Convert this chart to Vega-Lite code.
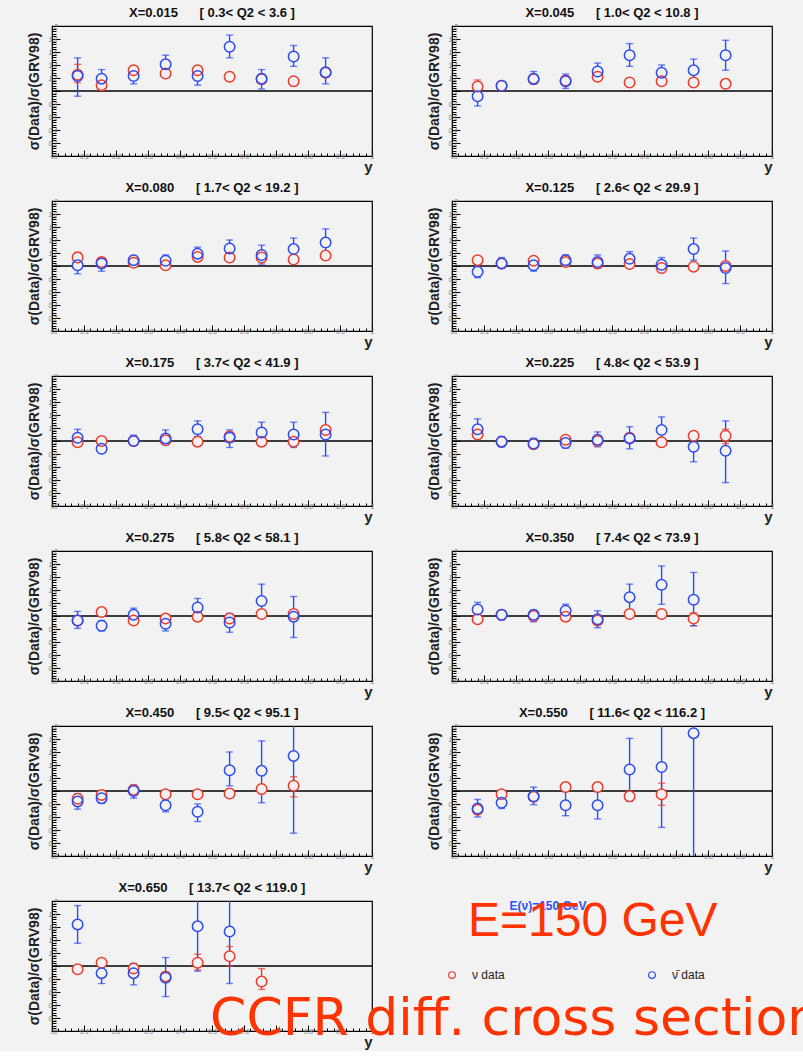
{
"$schema": "https://vega.github.io/schema/vega-lite/v6.json",
"background": "#f2f2f2",
"padding": {"left": 27, "top": 6, "right": 0, "bottom": 0},
"columns": 2,
"bounds": "flush",
"spacing": {"row": 45, "column": 80},
"config": {
  "font": "Liberation Sans",
  "view": {"stroke": "#000", "strokeWidth": 1.2},
  "title": {"fontSize": 13, "fontWeight": "bold", "font": "Liberation Sans", "offset": 3, "color": "#111"},
  "axis": {"grid": false, "domain": false, "tickColor": "#000", "tickWidth": 1, "labelOverlap": false, "labelFlush": false, "labelBound": false, "labelFont": "Liberation Sans", "labelFontStyle": "italic", "labelFontSize": 6.5, "labelColor": "#7a7a7a", "labelPadding": 3, "format": "~g", "titleFont": "Liberation Sans", "titleColor": "#222"},
  "axisY": {"titleFontSize": 14, "titleFontWeight": "bold", "titlePadding": 6},
  "axisX": {"titleAnchor": "end", "titleFontSize": 15, "titleFontWeight": "bold", "titlePadding": 0}
},
"datasets": {
"pts": [
{"p":1,"s":"a","y":0.08,"v":1.25,"lo":1.13,"hi":1.41},
{"p":1,"s":"a","y":0.155,"v":1.09,"lo":1.01,"hi":1.15},
{"p":1,"s":"a","y":0.255,"v":1.32,"lo":1.25,"hi":1.38},
{"p":1,"s":"a","y":0.355,"v":1.27,"lo":1.25,"hi":1.29},
{"p":1,"s":"a","y":0.455,"v":1.32,"lo":1.26,"hi":1.37},
{"p":1,"s":"a","y":0.555,"v":1.22,"lo":1.2,"hi":1.24},
{"p":1,"s":"a","y":0.655,"v":1.18,"lo":1.15,"hi":1.21},
{"p":1,"s":"a","y":0.755,"v":1.15,"lo":1.08,"hi":1.17},
{"p":1,"s":"a","y":0.855,"v":1.28,"lo":1.22,"hi":1.33},
{"p":1,"s":"b","y":0.08,"v":1.23,"lo":0.92,"hi":1.51},
{"p":1,"s":"b","y":0.155,"v":1.19,"lo":1.06,"hi":1.33},
{"p":1,"s":"b","y":0.255,"v":1.23,"lo":1.11,"hi":1.37},
{"p":1,"s":"b","y":0.355,"v":1.41,"lo":1.28,"hi":1.55},
{"p":1,"s":"b","y":0.455,"v":1.23,"lo":1.09,"hi":1.37},
{"p":1,"s":"b","y":0.555,"v":1.68,"lo":1.51,"hi":1.86},
{"p":1,"s":"b","y":0.655,"v":1.19,"lo":1.03,"hi":1.33},
{"p":1,"s":"b","y":0.755,"v":1.53,"lo":1.38,"hi":1.7},
{"p":1,"s":"b","y":0.855,"v":1.29,"lo":1.11,"hi":1.51},
{"p":2,"s":"a","y":0.08,"v":1.07,"lo":1.01,"hi":1.17},
{"p":2,"s":"a","y":0.155,"v":1.08,"lo":1.05,"hi":1.11},
{"p":2,"s":"a","y":0.255,"v":1.18,"lo":1.14,"hi":1.22},
{"p":2,"s":"a","y":0.355,"v":1.16,"lo":1.12,"hi":1.2},
{"p":2,"s":"a","y":0.455,"v":1.22,"lo":1.19,"hi":1.25},
{"p":2,"s":"a","y":0.555,"v":1.13,"lo":1.12,"hi":1.14},
{"p":2,"s":"a","y":0.655,"v":1.15,"lo":1.12,"hi":1.18},
{"p":2,"s":"a","y":0.755,"v":1.13,"lo":1.1,"hi":1.16},
{"p":2,"s":"a","y":0.855,"v":1.11,"lo":1.04,"hi":1.18},
{"p":2,"s":"b","y":0.08,"v":0.92,"lo":0.77,"hi":1.06},
{"p":2,"s":"b","y":0.155,"v":1.08,"lo":1.01,"hi":1.14},
{"p":2,"s":"b","y":0.255,"v":1.19,"lo":1.11,"hi":1.3},
{"p":2,"s":"b","y":0.355,"v":1.15,"lo":1.04,"hi":1.26},
{"p":2,"s":"b","y":0.455,"v":1.3,"lo":1.17,"hi":1.43},
{"p":2,"s":"b","y":0.555,"v":1.55,"lo":1.38,"hi":1.73},
{"p":2,"s":"b","y":0.655,"v":1.28,"lo":1.13,"hi":1.4},
{"p":2,"s":"b","y":0.755,"v":1.32,"lo":1.15,"hi":1.49},
{"p":2,"s":"b","y":0.855,"v":1.55,"lo":1.32,"hi":1.78},
{"p":3,"s":"a","y":0.08,"v":1.13,"lo":1.06,"hi":1.21},
{"p":3,"s":"a","y":0.155,"v":1.06,"lo":1.03,"hi":1.09},
{"p":3,"s":"a","y":0.255,"v":1.05,"lo":1.02,"hi":1.08},
{"p":3,"s":"a","y":0.355,"v":1.01,"lo":0.98,"hi":1.04},
{"p":3,"s":"a","y":0.455,"v":1.14,"lo":1.11,"hi":1.17},
{"p":3,"s":"a","y":0.555,"v":1.13,"lo":1.12,"hi":1.14},
{"p":3,"s":"a","y":0.655,"v":1.13,"lo":1.1,"hi":1.16},
{"p":3,"s":"a","y":0.755,"v":1.1,"lo":1.07,"hi":1.13},
{"p":3,"s":"a","y":0.855,"v":1.16,"lo":1.12,"hi":1.2},
{"p":3,"s":"b","y":0.08,"v":1.01,"lo":0.88,"hi":1.11},
{"p":3,"s":"b","y":0.155,"v":1.04,"lo":0.92,"hi":1.1},
{"p":3,"s":"b","y":0.255,"v":1.09,"lo":1.03,"hi":1.16},
{"p":3,"s":"b","y":0.355,"v":1.08,"lo":1.0,"hi":1.17},
{"p":3,"s":"b","y":0.455,"v":1.19,"lo":1.1,"hi":1.29},
{"p":3,"s":"b","y":0.555,"v":1.27,"lo":1.15,"hi":1.4},
{"p":3,"s":"b","y":0.655,"v":1.17,"lo":1.03,"hi":1.32},
{"p":3,"s":"b","y":0.755,"v":1.26,"lo":1.1,"hi":1.43},
{"p":3,"s":"b","y":0.855,"v":1.36,"lo":1.14,"hi":1.57},
{"p":4,"s":"a","y":0.08,"v":1.09,"lo":1.08,"hi":1.1},
{"p":4,"s":"a","y":0.155,"v":1.04,"lo":1.01,"hi":1.07},
{"p":4,"s":"a","y":0.255,"v":1.08,"lo":1.05,"hi":1.11},
{"p":4,"s":"a","y":0.355,"v":1.06,"lo":1.03,"hi":1.09},
{"p":4,"s":"a","y":0.455,"v":1.04,"lo":1.01,"hi":1.07},
{"p":4,"s":"a","y":0.555,"v":1.03,"lo":1.01,"hi":1.05},
{"p":4,"s":"a","y":0.655,"v":0.97,"lo":0.94,"hi":1.0},
{"p":4,"s":"a","y":0.755,"v":0.99,"lo":0.98,"hi":1.0},
{"p":4,"s":"a","y":0.855,"v":1.0,"lo":0.95,"hi":1.05},
{"p":4,"s":"b","y":0.08,"v":0.91,"lo":0.82,"hi":1.03},
{"p":4,"s":"b","y":0.155,"v":1.04,"lo":0.97,"hi":1.13},
{"p":4,"s":"b","y":0.255,"v":1.01,"lo":0.92,"hi":1.06},
{"p":4,"s":"b","y":0.355,"v":1.09,"lo":1.0,"hi":1.17},
{"p":4,"s":"b","y":0.455,"v":1.06,"lo":0.97,"hi":1.17},
{"p":4,"s":"b","y":0.555,"v":1.11,"lo":1.01,"hi":1.22},
{"p":4,"s":"b","y":0.655,"v":1.02,"lo":0.9,"hi":1.13},
{"p":4,"s":"b","y":0.755,"v":1.26,"lo":1.09,"hi":1.43},
{"p":4,"s":"b","y":0.855,"v":0.97,"lo":0.73,"hi":1.23},
{"p":5,"s":"a","y":0.08,"v":0.98,"lo":0.95,"hi":1.01},
{"p":5,"s":"a","y":0.155,"v":1.0,"lo":0.97,"hi":1.03},
{"p":5,"s":"a","y":0.255,"v":1.0,"lo":0.96,"hi":1.04},
{"p":5,"s":"a","y":0.355,"v":1.01,"lo":0.98,"hi":1.04},
{"p":5,"s":"a","y":0.455,"v":0.99,"lo":0.98,"hi":1.0},
{"p":5,"s":"a","y":0.555,"v":1.07,"lo":1.03,"hi":1.11},
{"p":5,"s":"a","y":0.655,"v":0.99,"lo":0.96,"hi":1.02},
{"p":5,"s":"a","y":0.755,"v":0.99,"lo":0.94,"hi":1.04},
{"p":5,"s":"a","y":0.855,"v":1.17,"lo":1.11,"hi":1.23},
{"p":5,"s":"b","y":0.08,"v":1.05,"lo":0.93,"hi":1.18},
{"p":5,"s":"b","y":0.155,"v":0.88,"lo":0.84,"hi":0.94},
{"p":5,"s":"b","y":0.255,"v":1.0,"lo":0.94,"hi":1.09},
{"p":5,"s":"b","y":0.355,"v":1.04,"lo":0.94,"hi":1.17},
{"p":5,"s":"b","y":0.455,"v":1.18,"lo":1.07,"hi":1.31},
{"p":5,"s":"b","y":0.555,"v":1.05,"lo":0.9,"hi":1.17},
{"p":5,"s":"b","y":0.655,"v":1.13,"lo":1.0,"hi":1.29},
{"p":5,"s":"b","y":0.755,"v":1.1,"lo":0.9,"hi":1.29},
{"p":5,"s":"b","y":0.855,"v":1.1,"lo":0.77,"hi":1.44},
{"p":6,"s":"a","y":0.08,"v":1.1,"lo":1.04,"hi":1.16},
{"p":6,"s":"a","y":0.155,"v":0.99,"lo":0.96,"hi":1.02},
{"p":6,"s":"a","y":0.255,"v":0.95,"lo":0.92,"hi":0.98},
{"p":6,"s":"a","y":0.355,"v":1.02,"lo":0.98,"hi":1.06},
{"p":6,"s":"a","y":0.455,"v":1.0,"lo":0.98,"hi":1.02},
{"p":6,"s":"a","y":0.555,"v":1.05,"lo":1.01,"hi":1.09},
{"p":6,"s":"a","y":0.655,"v":0.98,"lo":0.97,"hi":0.99},
{"p":6,"s":"a","y":0.755,"v":1.08,"lo":1.04,"hi":1.12},
{"p":6,"s":"a","y":0.855,"v":1.08,"lo":0.96,"hi":1.18},
{"p":6,"s":"b","y":0.08,"v":1.18,"lo":1.05,"hi":1.34},
{"p":6,"s":"b","y":0.155,"v":0.99,"lo":0.91,"hi":1.07},
{"p":6,"s":"b","y":0.255,"v":0.96,"lo":0.89,"hi":1.04},
{"p":6,"s":"b","y":0.355,"v":0.97,"lo":0.89,"hi":1.07},
{"p":6,"s":"b","y":0.455,"v":1.02,"lo":0.91,"hi":1.14},
{"p":6,"s":"b","y":0.555,"v":1.04,"lo":0.88,"hi":1.22},
{"p":6,"s":"b","y":0.655,"v":1.17,"lo":0.99,"hi":1.37},
{"p":6,"s":"b","y":0.755,"v":0.91,"lo":0.68,"hi":1.12},
{"p":6,"s":"b","y":0.855,"v":0.85,"lo":0.36,"hi":1.31},
{"p":7,"s":"a","y":0.08,"v":0.93,"lo":0.9,"hi":0.96},
{"p":7,"s":"a","y":0.155,"v":1.06,"lo":1.05,"hi":1.07},
{"p":7,"s":"a","y":0.255,"v":0.93,"lo":0.9,"hi":0.96},
{"p":7,"s":"a","y":0.355,"v":0.96,"lo":0.93,"hi":0.99},
{"p":7,"s":"a","y":0.455,"v":0.99,"lo":0.96,"hi":1.02},
{"p":7,"s":"a","y":0.555,"v":0.96,"lo":0.92,"hi":1.0},
{"p":7,"s":"a","y":0.655,"v":1.03,"lo":0.99,"hi":1.07},
{"p":7,"s":"a","y":0.755,"v":1.03,"lo":0.98,"hi":1.08},
{"p":7,"s":"b","y":0.08,"v":0.93,"lo":0.81,"hi":1.07},
{"p":7,"s":"b","y":0.155,"v":0.85,"lo":0.77,"hi":0.93},
{"p":7,"s":"b","y":0.255,"v":1.02,"lo":0.94,"hi":1.12},
{"p":7,"s":"b","y":0.355,"v":0.88,"lo":0.77,"hi":0.96},
{"p":7,"s":"b","y":0.455,"v":1.13,"lo":1.02,"hi":1.27},
{"p":7,"s":"b","y":0.555,"v":0.9,"lo":0.75,"hi":1.04},
{"p":7,"s":"b","y":0.655,"v":1.23,"lo":0.99,"hi":1.49},
{"p":7,"s":"b","y":0.755,"v":0.99,"lo":0.67,"hi":1.3},
{"p":8,"s":"a","y":0.08,"v":0.95,"lo":0.92,"hi":0.98},
{"p":8,"s":"a","y":0.155,"v":1.02,"lo":0.99,"hi":1.05},
{"p":8,"s":"a","y":0.255,"v":1.0,"lo":0.97,"hi":1.03},
{"p":8,"s":"a","y":0.355,"v":0.99,"lo":0.96,"hi":1.02},
{"p":8,"s":"a","y":0.455,"v":0.93,"lo":0.88,"hi":0.98},
{"p":8,"s":"a","y":0.555,"v":1.03,"lo":1.02,"hi":1.04},
{"p":8,"s":"a","y":0.655,"v":1.03,"lo":1.02,"hi":1.04},
{"p":8,"s":"a","y":0.755,"v":0.96,"lo":0.85,"hi":1.05},
{"p":8,"s":"b","y":0.08,"v":1.1,"lo":1.02,"hi":1.21},
{"p":8,"s":"b","y":0.155,"v":1.02,"lo":0.94,"hi":1.07},
{"p":8,"s":"b","y":0.255,"v":1.02,"lo":0.91,"hi":1.09},
{"p":8,"s":"b","y":0.355,"v":1.08,"lo":1.0,"hi":1.18},
{"p":8,"s":"b","y":0.455,"v":0.95,"lo":0.82,"hi":1.08},
{"p":8,"s":"b","y":0.555,"v":1.29,"lo":1.09,"hi":1.49},
{"p":8,"s":"b","y":0.655,"v":1.48,"lo":1.18,"hi":1.77},
{"p":8,"s":"b","y":0.755,"v":1.25,"lo":0.85,"hi":1.67},
{"p":9,"s":"a","y":0.08,"v":0.88,"lo":0.83,"hi":0.93},
{"p":9,"s":"a","y":0.155,"v":0.94,"lo":0.9,"hi":0.98},
{"p":9,"s":"a","y":0.255,"v":1.02,"lo":0.98,"hi":1.06},
{"p":9,"s":"a","y":0.355,"v":0.95,"lo":0.94,"hi":0.96},
{"p":9,"s":"a","y":0.455,"v":0.95,"lo":0.94,"hi":0.96},
{"p":9,"s":"a","y":0.555,"v":0.96,"lo":0.95,"hi":0.97},
{"p":9,"s":"a","y":0.655,"v":1.03,"lo":0.96,"hi":1.1},
{"p":9,"s":"a","y":0.755,"v":1.08,"lo":0.91,"hi":1.22},
{"p":9,"s":"b","y":0.08,"v":0.84,"lo":0.72,"hi":0.96},
{"p":9,"s":"b","y":0.155,"v":0.89,"lo":0.81,"hi":0.96},
{"p":9,"s":"b","y":0.255,"v":1.0,"lo":0.89,"hi":1.09},
{"p":9,"s":"b","y":0.355,"v":0.78,"lo":0.68,"hi":0.88},
{"p":9,"s":"b","y":0.455,"v":0.68,"lo":0.53,"hi":0.8},
{"p":9,"s":"b","y":0.555,"v":1.32,"lo":1.08,"hi":1.6},
{"p":9,"s":"b","y":0.655,"v":1.31,"lo":0.82,"hi":1.77},
{"p":9,"s":"b","y":0.755,"v":1.54,"lo":0.35,"hi":2.1},
{"p":10,"s":"a","y":0.08,"v":0.71,"lo":0.67,"hi":0.75},
{"p":10,"s":"a","y":0.155,"v":0.95,"lo":0.92,"hi":0.98},
{"p":10,"s":"a","y":0.255,"v":0.91,"lo":0.85,"hi":0.97},
{"p":10,"s":"a","y":0.355,"v":1.06,"lo":1.01,"hi":1.11},
{"p":10,"s":"a","y":0.455,"v":1.06,"lo":1.01,"hi":1.11},
{"p":10,"s":"a","y":0.555,"v":0.92,"lo":0.85,"hi":0.99},
{"p":10,"s":"a","y":0.655,"v":0.95,"lo":0.78,"hi":1.12},
{"p":10,"s":"b","y":0.08,"v":0.73,"lo":0.6,"hi":0.87},
{"p":10,"s":"b","y":0.155,"v":0.82,"lo":0.73,"hi":0.94},
{"p":10,"s":"b","y":0.255,"v":0.92,"lo":0.79,"hi":1.06},
{"p":10,"s":"b","y":0.355,"v":0.78,"lo":0.62,"hi":0.99},
{"p":10,"s":"b","y":0.455,"v":0.78,"lo":0.57,"hi":0.99},
{"p":10,"s":"b","y":0.555,"v":1.33,"lo":0.84,"hi":1.81},
{"p":10,"s":"b","y":0.655,"v":1.37,"lo":0.44,"hi":2.3},
{"p":10,"s":"b","y":0.755,"v":1.89,"lo":-0.3,"hi":4.0},
{"p":11,"s":"a","y":0.08,"v":0.95,"lo":0.9,"hi":1.0},
{"p":11,"s":"a","y":0.155,"v":1.05,"lo":1.01,"hi":1.09},
{"p":11,"s":"a","y":0.255,"v":0.96,"lo":0.92,"hi":1.0},
{"p":11,"s":"a","y":0.355,"v":0.84,"lo":0.79,"hi":0.89},
{"p":11,"s":"a","y":0.455,"v":1.05,"lo":0.94,"hi":1.18},
{"p":11,"s":"a","y":0.555,"v":1.15,"lo":1.0,"hi":1.3},
{"p":11,"s":"a","y":0.655,"v":0.76,"lo":0.64,"hi":0.96},
{"p":11,"s":"b","y":0.08,"v":1.64,"lo":1.35,"hi":1.93},
{"p":11,"s":"b","y":0.155,"v":0.89,"lo":0.73,"hi":1.04},
{"p":11,"s":"b","y":0.255,"v":0.89,"lo":0.71,"hi":1.04},
{"p":11,"s":"b","y":0.355,"v":0.82,"lo":0.53,"hi":1.13},
{"p":11,"s":"b","y":0.455,"v":1.61,"lo":0.92,"hi":2.4},
{"p":11,"s":"b","y":0.555,"v":1.53,"lo":0.73,"hi":2.4}
]
},
"concat": [
{"width":320,"height":130,"title":"X=0.015\u00a0\u00a0\u00a0\u00a0\u00a0\u00a0[ 0.3< Q2 < 3.6 ]","data":{"name":"pts"},"transform":[{"filter":"datum.p==1"}],"resolve":{"axis":{"x":"independent","y":"independent"}},"layer":[
{"transform":[{"aggregate":[{"op":"count","as":"n"}]}],"mark":{"type":"rule","color":"#000","strokeWidth":1.3},"encoding":{"y":{"datum":1,"type":"quantitative","scale":{"domain":[0,2],"nice":false},"axis":{"orient":"left","values":[0,0.04,0.08,0.12,0.16,0.2,0.24,0.28,0.32,0.36,0.4,0.44,0.48,0.52,0.56,0.6,0.64,0.68,0.72,0.76,0.8,0.84,0.88,0.92,0.96,1,1.04,1.08,1.12,1.16,1.2,1.24,1.28,1.32,1.36,1.4,1.44,1.48,1.52,1.56,1.6,1.64,1.68,1.72,1.76,1.8,1.84,1.88,1.92,1.96,2],"tickSize":-4,"labels":false,"title":null}}}},
{"mark":{"type":"rule","clip":true,"strokeWidth":1.4},"encoding":{"x":{"field":"y","type":"quantitative","scale":{"domain":[0,1],"nice":false,"zero":false},"axis":{"orient":"bottom","values":[0,0.02,0.04,0.06,0.08,0.1,0.12,0.14,0.16,0.18,0.2,0.22,0.24,0.26,0.28,0.3,0.32,0.34,0.36,0.38,0.4,0.42,0.44,0.46,0.48,0.5,0.52,0.54,0.56,0.58,0.6,0.62,0.64,0.66,0.68,0.7,0.72,0.74,0.76,0.78,0.8,0.82,0.84,0.86,0.88,0.9,0.92,0.94,0.96,0.98,1],"tickSize":-3,"labels":false,"title":null}},"y":{"field":"lo","type":"quantitative","axis":null},"y2":{"field":"hi"},"color":{"field":"s","type":"nominal","scale":{"domain":["a","b"],"range":["#ee3b2b","#2a4bf5"]},"legend":null}}},
{"mark":{"type":"tick","orient":"horizontal","clip":true,"size":7,"thickness":1.4},"encoding":{"x":{"field":"y","type":"quantitative","axis":null},"y":{"field":"hi","type":"quantitative","axis":null},"color":{"field":"s","type":"nominal","legend":null}}},
{"mark":{"type":"tick","orient":"horizontal","clip":true,"size":7,"thickness":1.4},"encoding":{"x":{"field":"y","type":"quantitative","axis":null},"y":{"field":"lo","type":"quantitative","axis":null},"color":{"field":"s","type":"nominal","legend":null}}},
{"mark":{"type":"point","shape":"circle","filled":true,"size":110,"color":"#f2f2f2","opacity":1,"strokeWidth":0},"encoding":{"x":{"field":"y","type":"quantitative","axis":null},"y":{"field":"v","type":"quantitative","axis":null}}},
{"mark":{"type":"point","shape":"circle","filled":false,"size":110,"strokeWidth":1.5,"opacity":1},"encoding":{"x":{"field":"y","type":"quantitative","axis":{"orient":"bottom","values":[0,0.1,0.2,0.3,0.4,0.5,0.6,0.7,0.8,0.9,1],"tickSize":-6,"title":"y"}},"y":{"field":"v","type":"quantitative","axis":{"orient":"left","values":[0,0.2,0.4,0.6,0.8,1,1.2,1.4,1.6,1.8,2],"tickSize":-8,"title":"σ(Data)/σ(GRV98)"}},"color":{"field":"s","type":"nominal","legend":null}}}
]},
{"width":320,"height":130,"title":"X=0.045\u00a0\u00a0\u00a0\u00a0\u00a0\u00a0[ 1.0< Q2 < 10.8 ]","data":{"name":"pts"},"transform":[{"filter":"datum.p==2"}],"resolve":{"axis":{"x":"independent","y":"independent"}},"layer":[
{"transform":[{"aggregate":[{"op":"count","as":"n"}]}],"mark":{"type":"rule","color":"#000","strokeWidth":1.3},"encoding":{"y":{"datum":1,"type":"quantitative","scale":{"domain":[0,2],"nice":false},"axis":{"orient":"left","values":[0,0.04,0.08,0.12,0.16,0.2,0.24,0.28,0.32,0.36,0.4,0.44,0.48,0.52,0.56,0.6,0.64,0.68,0.72,0.76,0.8,0.84,0.88,0.92,0.96,1,1.04,1.08,1.12,1.16,1.2,1.24,1.28,1.32,1.36,1.4,1.44,1.48,1.52,1.56,1.6,1.64,1.68,1.72,1.76,1.8,1.84,1.88,1.92,1.96,2],"tickSize":-4,"labels":false,"title":null}}}},
{"mark":{"type":"rule","clip":true,"strokeWidth":1.4},"encoding":{"x":{"field":"y","type":"quantitative","scale":{"domain":[0,1],"nice":false,"zero":false},"axis":{"orient":"bottom","values":[0,0.02,0.04,0.06,0.08,0.1,0.12,0.14,0.16,0.18,0.2,0.22,0.24,0.26,0.28,0.3,0.32,0.34,0.36,0.38,0.4,0.42,0.44,0.46,0.48,0.5,0.52,0.54,0.56,0.58,0.6,0.62,0.64,0.66,0.68,0.7,0.72,0.74,0.76,0.78,0.8,0.82,0.84,0.86,0.88,0.9,0.92,0.94,0.96,0.98,1],"tickSize":-3,"labels":false,"title":null}},"y":{"field":"lo","type":"quantitative","axis":null},"y2":{"field":"hi"},"color":{"field":"s","type":"nominal","scale":{"domain":["a","b"],"range":["#ee3b2b","#2a4bf5"]},"legend":null}}},
{"mark":{"type":"tick","orient":"horizontal","clip":true,"size":7,"thickness":1.4},"encoding":{"x":{"field":"y","type":"quantitative","axis":null},"y":{"field":"hi","type":"quantitative","axis":null},"color":{"field":"s","type":"nominal","legend":null}}},
{"mark":{"type":"tick","orient":"horizontal","clip":true,"size":7,"thickness":1.4},"encoding":{"x":{"field":"y","type":"quantitative","axis":null},"y":{"field":"lo","type":"quantitative","axis":null},"color":{"field":"s","type":"nominal","legend":null}}},
{"mark":{"type":"point","shape":"circle","filled":true,"size":110,"color":"#f2f2f2","opacity":1,"strokeWidth":0},"encoding":{"x":{"field":"y","type":"quantitative","axis":null},"y":{"field":"v","type":"quantitative","axis":null}}},
{"mark":{"type":"point","shape":"circle","filled":false,"size":110,"strokeWidth":1.5,"opacity":1},"encoding":{"x":{"field":"y","type":"quantitative","axis":{"orient":"bottom","values":[0,0.1,0.2,0.3,0.4,0.5,0.6,0.7,0.8,0.9,1],"tickSize":-6,"title":"y"}},"y":{"field":"v","type":"quantitative","axis":{"orient":"left","values":[0,0.2,0.4,0.6,0.8,1,1.2,1.4,1.6,1.8,2],"tickSize":-8,"title":"σ(Data)/σ(GRV98)"}},"color":{"field":"s","type":"nominal","legend":null}}}
]},
{"width":320,"height":130,"title":"X=0.080\u00a0\u00a0\u00a0\u00a0\u00a0\u00a0[ 1.7< Q2 < 19.2 ]","data":{"name":"pts"},"transform":[{"filter":"datum.p==3"}],"resolve":{"axis":{"x":"independent","y":"independent"}},"layer":[
{"transform":[{"aggregate":[{"op":"count","as":"n"}]}],"mark":{"type":"rule","color":"#000","strokeWidth":1.3},"encoding":{"y":{"datum":1,"type":"quantitative","scale":{"domain":[0,2],"nice":false},"axis":{"orient":"left","values":[0,0.04,0.08,0.12,0.16,0.2,0.24,0.28,0.32,0.36,0.4,0.44,0.48,0.52,0.56,0.6,0.64,0.68,0.72,0.76,0.8,0.84,0.88,0.92,0.96,1,1.04,1.08,1.12,1.16,1.2,1.24,1.28,1.32,1.36,1.4,1.44,1.48,1.52,1.56,1.6,1.64,1.68,1.72,1.76,1.8,1.84,1.88,1.92,1.96,2],"tickSize":-4,"labels":false,"title":null}}}},
{"mark":{"type":"rule","clip":true,"strokeWidth":1.4},"encoding":{"x":{"field":"y","type":"quantitative","scale":{"domain":[0,1],"nice":false,"zero":false},"axis":{"orient":"bottom","values":[0,0.02,0.04,0.06,0.08,0.1,0.12,0.14,0.16,0.18,0.2,0.22,0.24,0.26,0.28,0.3,0.32,0.34,0.36,0.38,0.4,0.42,0.44,0.46,0.48,0.5,0.52,0.54,0.56,0.58,0.6,0.62,0.64,0.66,0.68,0.7,0.72,0.74,0.76,0.78,0.8,0.82,0.84,0.86,0.88,0.9,0.92,0.94,0.96,0.98,1],"tickSize":-3,"labels":false,"title":null}},"y":{"field":"lo","type":"quantitative","axis":null},"y2":{"field":"hi"},"color":{"field":"s","type":"nominal","scale":{"domain":["a","b"],"range":["#ee3b2b","#2a4bf5"]},"legend":null}}},
{"mark":{"type":"tick","orient":"horizontal","clip":true,"size":7,"thickness":1.4},"encoding":{"x":{"field":"y","type":"quantitative","axis":null},"y":{"field":"hi","type":"quantitative","axis":null},"color":{"field":"s","type":"nominal","legend":null}}},
{"mark":{"type":"tick","orient":"horizontal","clip":true,"size":7,"thickness":1.4},"encoding":{"x":{"field":"y","type":"quantitative","axis":null},"y":{"field":"lo","type":"quantitative","axis":null},"color":{"field":"s","type":"nominal","legend":null}}},
{"mark":{"type":"point","shape":"circle","filled":true,"size":110,"color":"#f2f2f2","opacity":1,"strokeWidth":0},"encoding":{"x":{"field":"y","type":"quantitative","axis":null},"y":{"field":"v","type":"quantitative","axis":null}}},
{"mark":{"type":"point","shape":"circle","filled":false,"size":110,"strokeWidth":1.5,"opacity":1},"encoding":{"x":{"field":"y","type":"quantitative","axis":{"orient":"bottom","values":[0,0.1,0.2,0.3,0.4,0.5,0.6,0.7,0.8,0.9,1],"tickSize":-6,"title":"y"}},"y":{"field":"v","type":"quantitative","axis":{"orient":"left","values":[0,0.2,0.4,0.6,0.8,1,1.2,1.4,1.6,1.8,2],"tickSize":-8,"title":"σ(Data)/σ(GRV98)"}},"color":{"field":"s","type":"nominal","legend":null}}}
]},
{"width":320,"height":130,"title":"X=0.125\u00a0\u00a0\u00a0\u00a0\u00a0\u00a0[ 2.6< Q2 < 29.9 ]","data":{"name":"pts"},"transform":[{"filter":"datum.p==4"}],"resolve":{"axis":{"x":"independent","y":"independent"}},"layer":[
{"transform":[{"aggregate":[{"op":"count","as":"n"}]}],"mark":{"type":"rule","color":"#000","strokeWidth":1.3},"encoding":{"y":{"datum":1,"type":"quantitative","scale":{"domain":[0,2],"nice":false},"axis":{"orient":"left","values":[0,0.04,0.08,0.12,0.16,0.2,0.24,0.28,0.32,0.36,0.4,0.44,0.48,0.52,0.56,0.6,0.64,0.68,0.72,0.76,0.8,0.84,0.88,0.92,0.96,1,1.04,1.08,1.12,1.16,1.2,1.24,1.28,1.32,1.36,1.4,1.44,1.48,1.52,1.56,1.6,1.64,1.68,1.72,1.76,1.8,1.84,1.88,1.92,1.96,2],"tickSize":-4,"labels":false,"title":null}}}},
{"mark":{"type":"rule","clip":true,"strokeWidth":1.4},"encoding":{"x":{"field":"y","type":"quantitative","scale":{"domain":[0,1],"nice":false,"zero":false},"axis":{"orient":"bottom","values":[0,0.02,0.04,0.06,0.08,0.1,0.12,0.14,0.16,0.18,0.2,0.22,0.24,0.26,0.28,0.3,0.32,0.34,0.36,0.38,0.4,0.42,0.44,0.46,0.48,0.5,0.52,0.54,0.56,0.58,0.6,0.62,0.64,0.66,0.68,0.7,0.72,0.74,0.76,0.78,0.8,0.82,0.84,0.86,0.88,0.9,0.92,0.94,0.96,0.98,1],"tickSize":-3,"labels":false,"title":null}},"y":{"field":"lo","type":"quantitative","axis":null},"y2":{"field":"hi"},"color":{"field":"s","type":"nominal","scale":{"domain":["a","b"],"range":["#ee3b2b","#2a4bf5"]},"legend":null}}},
{"mark":{"type":"tick","orient":"horizontal","clip":true,"size":7,"thickness":1.4},"encoding":{"x":{"field":"y","type":"quantitative","axis":null},"y":{"field":"hi","type":"quantitative","axis":null},"color":{"field":"s","type":"nominal","legend":null}}},
{"mark":{"type":"tick","orient":"horizontal","clip":true,"size":7,"thickness":1.4},"encoding":{"x":{"field":"y","type":"quantitative","axis":null},"y":{"field":"lo","type":"quantitative","axis":null},"color":{"field":"s","type":"nominal","legend":null}}},
{"mark":{"type":"point","shape":"circle","filled":true,"size":110,"color":"#f2f2f2","opacity":1,"strokeWidth":0},"encoding":{"x":{"field":"y","type":"quantitative","axis":null},"y":{"field":"v","type":"quantitative","axis":null}}},
{"mark":{"type":"point","shape":"circle","filled":false,"size":110,"strokeWidth":1.5,"opacity":1},"encoding":{"x":{"field":"y","type":"quantitative","axis":{"orient":"bottom","values":[0,0.1,0.2,0.3,0.4,0.5,0.6,0.7,0.8,0.9,1],"tickSize":-6,"title":"y"}},"y":{"field":"v","type":"quantitative","axis":{"orient":"left","values":[0,0.2,0.4,0.6,0.8,1,1.2,1.4,1.6,1.8,2],"tickSize":-8,"title":"σ(Data)/σ(GRV98)"}},"color":{"field":"s","type":"nominal","legend":null}}}
]},
{"width":320,"height":130,"title":"X=0.175\u00a0\u00a0\u00a0\u00a0\u00a0\u00a0[ 3.7< Q2 < 41.9 ]","data":{"name":"pts"},"transform":[{"filter":"datum.p==5"}],"resolve":{"axis":{"x":"independent","y":"independent"}},"layer":[
{"transform":[{"aggregate":[{"op":"count","as":"n"}]}],"mark":{"type":"rule","color":"#000","strokeWidth":1.3},"encoding":{"y":{"datum":1,"type":"quantitative","scale":{"domain":[0,2],"nice":false},"axis":{"orient":"left","values":[0,0.04,0.08,0.12,0.16,0.2,0.24,0.28,0.32,0.36,0.4,0.44,0.48,0.52,0.56,0.6,0.64,0.68,0.72,0.76,0.8,0.84,0.88,0.92,0.96,1,1.04,1.08,1.12,1.16,1.2,1.24,1.28,1.32,1.36,1.4,1.44,1.48,1.52,1.56,1.6,1.64,1.68,1.72,1.76,1.8,1.84,1.88,1.92,1.96,2],"tickSize":-4,"labels":false,"title":null}}}},
{"mark":{"type":"rule","clip":true,"strokeWidth":1.4},"encoding":{"x":{"field":"y","type":"quantitative","scale":{"domain":[0,1],"nice":false,"zero":false},"axis":{"orient":"bottom","values":[0,0.02,0.04,0.06,0.08,0.1,0.12,0.14,0.16,0.18,0.2,0.22,0.24,0.26,0.28,0.3,0.32,0.34,0.36,0.38,0.4,0.42,0.44,0.46,0.48,0.5,0.52,0.54,0.56,0.58,0.6,0.62,0.64,0.66,0.68,0.7,0.72,0.74,0.76,0.78,0.8,0.82,0.84,0.86,0.88,0.9,0.92,0.94,0.96,0.98,1],"tickSize":-3,"labels":false,"title":null}},"y":{"field":"lo","type":"quantitative","axis":null},"y2":{"field":"hi"},"color":{"field":"s","type":"nominal","scale":{"domain":["a","b"],"range":["#ee3b2b","#2a4bf5"]},"legend":null}}},
{"mark":{"type":"tick","orient":"horizontal","clip":true,"size":7,"thickness":1.4},"encoding":{"x":{"field":"y","type":"quantitative","axis":null},"y":{"field":"hi","type":"quantitative","axis":null},"color":{"field":"s","type":"nominal","legend":null}}},
{"mark":{"type":"tick","orient":"horizontal","clip":true,"size":7,"thickness":1.4},"encoding":{"x":{"field":"y","type":"quantitative","axis":null},"y":{"field":"lo","type":"quantitative","axis":null},"color":{"field":"s","type":"nominal","legend":null}}},
{"mark":{"type":"point","shape":"circle","filled":true,"size":110,"color":"#f2f2f2","opacity":1,"strokeWidth":0},"encoding":{"x":{"field":"y","type":"quantitative","axis":null},"y":{"field":"v","type":"quantitative","axis":null}}},
{"mark":{"type":"point","shape":"circle","filled":false,"size":110,"strokeWidth":1.5,"opacity":1},"encoding":{"x":{"field":"y","type":"quantitative","axis":{"orient":"bottom","values":[0,0.1,0.2,0.3,0.4,0.5,0.6,0.7,0.8,0.9,1],"tickSize":-6,"title":"y"}},"y":{"field":"v","type":"quantitative","axis":{"orient":"left","values":[0,0.2,0.4,0.6,0.8,1,1.2,1.4,1.6,1.8,2],"tickSize":-8,"title":"σ(Data)/σ(GRV98)"}},"color":{"field":"s","type":"nominal","legend":null}}}
]},
{"width":320,"height":130,"title":"X=0.225\u00a0\u00a0\u00a0\u00a0\u00a0\u00a0[ 4.8< Q2 < 53.9 ]","data":{"name":"pts"},"transform":[{"filter":"datum.p==6"}],"resolve":{"axis":{"x":"independent","y":"independent"}},"layer":[
{"transform":[{"aggregate":[{"op":"count","as":"n"}]}],"mark":{"type":"rule","color":"#000","strokeWidth":1.3},"encoding":{"y":{"datum":1,"type":"quantitative","scale":{"domain":[0,2],"nice":false},"axis":{"orient":"left","values":[0,0.04,0.08,0.12,0.16,0.2,0.24,0.28,0.32,0.36,0.4,0.44,0.48,0.52,0.56,0.6,0.64,0.68,0.72,0.76,0.8,0.84,0.88,0.92,0.96,1,1.04,1.08,1.12,1.16,1.2,1.24,1.28,1.32,1.36,1.4,1.44,1.48,1.52,1.56,1.6,1.64,1.68,1.72,1.76,1.8,1.84,1.88,1.92,1.96,2],"tickSize":-4,"labels":false,"title":null}}}},
{"mark":{"type":"rule","clip":true,"strokeWidth":1.4},"encoding":{"x":{"field":"y","type":"quantitative","scale":{"domain":[0,1],"nice":false,"zero":false},"axis":{"orient":"bottom","values":[0,0.02,0.04,0.06,0.08,0.1,0.12,0.14,0.16,0.18,0.2,0.22,0.24,0.26,0.28,0.3,0.32,0.34,0.36,0.38,0.4,0.42,0.44,0.46,0.48,0.5,0.52,0.54,0.56,0.58,0.6,0.62,0.64,0.66,0.68,0.7,0.72,0.74,0.76,0.78,0.8,0.82,0.84,0.86,0.88,0.9,0.92,0.94,0.96,0.98,1],"tickSize":-3,"labels":false,"title":null}},"y":{"field":"lo","type":"quantitative","axis":null},"y2":{"field":"hi"},"color":{"field":"s","type":"nominal","scale":{"domain":["a","b"],"range":["#ee3b2b","#2a4bf5"]},"legend":null}}},
{"mark":{"type":"tick","orient":"horizontal","clip":true,"size":7,"thickness":1.4},"encoding":{"x":{"field":"y","type":"quantitative","axis":null},"y":{"field":"hi","type":"quantitative","axis":null},"color":{"field":"s","type":"nominal","legend":null}}},
{"mark":{"type":"tick","orient":"horizontal","clip":true,"size":7,"thickness":1.4},"encoding":{"x":{"field":"y","type":"quantitative","axis":null},"y":{"field":"lo","type":"quantitative","axis":null},"color":{"field":"s","type":"nominal","legend":null}}},
{"mark":{"type":"point","shape":"circle","filled":true,"size":110,"color":"#f2f2f2","opacity":1,"strokeWidth":0},"encoding":{"x":{"field":"y","type":"quantitative","axis":null},"y":{"field":"v","type":"quantitative","axis":null}}},
{"mark":{"type":"point","shape":"circle","filled":false,"size":110,"strokeWidth":1.5,"opacity":1},"encoding":{"x":{"field":"y","type":"quantitative","axis":{"orient":"bottom","values":[0,0.1,0.2,0.3,0.4,0.5,0.6,0.7,0.8,0.9,1],"tickSize":-6,"title":"y"}},"y":{"field":"v","type":"quantitative","axis":{"orient":"left","values":[0,0.2,0.4,0.6,0.8,1,1.2,1.4,1.6,1.8,2],"tickSize":-8,"title":"σ(Data)/σ(GRV98)"}},"color":{"field":"s","type":"nominal","legend":null}}}
]},
{"width":320,"height":130,"title":"X=0.275\u00a0\u00a0\u00a0\u00a0\u00a0\u00a0[ 5.8< Q2 < 58.1 ]","data":{"name":"pts"},"transform":[{"filter":"datum.p==7"}],"resolve":{"axis":{"x":"independent","y":"independent"}},"layer":[
{"transform":[{"aggregate":[{"op":"count","as":"n"}]}],"mark":{"type":"rule","color":"#000","strokeWidth":1.3},"encoding":{"y":{"datum":1,"type":"quantitative","scale":{"domain":[0,2],"nice":false},"axis":{"orient":"left","values":[0,0.04,0.08,0.12,0.16,0.2,0.24,0.28,0.32,0.36,0.4,0.44,0.48,0.52,0.56,0.6,0.64,0.68,0.72,0.76,0.8,0.84,0.88,0.92,0.96,1,1.04,1.08,1.12,1.16,1.2,1.24,1.28,1.32,1.36,1.4,1.44,1.48,1.52,1.56,1.6,1.64,1.68,1.72,1.76,1.8,1.84,1.88,1.92,1.96,2],"tickSize":-4,"labels":false,"title":null}}}},
{"mark":{"type":"rule","clip":true,"strokeWidth":1.4},"encoding":{"x":{"field":"y","type":"quantitative","scale":{"domain":[0,1],"nice":false,"zero":false},"axis":{"orient":"bottom","values":[0,0.02,0.04,0.06,0.08,0.1,0.12,0.14,0.16,0.18,0.2,0.22,0.24,0.26,0.28,0.3,0.32,0.34,0.36,0.38,0.4,0.42,0.44,0.46,0.48,0.5,0.52,0.54,0.56,0.58,0.6,0.62,0.64,0.66,0.68,0.7,0.72,0.74,0.76,0.78,0.8,0.82,0.84,0.86,0.88,0.9,0.92,0.94,0.96,0.98,1],"tickSize":-3,"labels":false,"title":null}},"y":{"field":"lo","type":"quantitative","axis":null},"y2":{"field":"hi"},"color":{"field":"s","type":"nominal","scale":{"domain":["a","b"],"range":["#ee3b2b","#2a4bf5"]},"legend":null}}},
{"mark":{"type":"tick","orient":"horizontal","clip":true,"size":7,"thickness":1.4},"encoding":{"x":{"field":"y","type":"quantitative","axis":null},"y":{"field":"hi","type":"quantitative","axis":null},"color":{"field":"s","type":"nominal","legend":null}}},
{"mark":{"type":"tick","orient":"horizontal","clip":true,"size":7,"thickness":1.4},"encoding":{"x":{"field":"y","type":"quantitative","axis":null},"y":{"field":"lo","type":"quantitative","axis":null},"color":{"field":"s","type":"nominal","legend":null}}},
{"mark":{"type":"point","shape":"circle","filled":true,"size":110,"color":"#f2f2f2","opacity":1,"strokeWidth":0},"encoding":{"x":{"field":"y","type":"quantitative","axis":null},"y":{"field":"v","type":"quantitative","axis":null}}},
{"mark":{"type":"point","shape":"circle","filled":false,"size":110,"strokeWidth":1.5,"opacity":1},"encoding":{"x":{"field":"y","type":"quantitative","axis":{"orient":"bottom","values":[0,0.1,0.2,0.3,0.4,0.5,0.6,0.7,0.8,0.9,1],"tickSize":-6,"title":"y"}},"y":{"field":"v","type":"quantitative","axis":{"orient":"left","values":[0,0.2,0.4,0.6,0.8,1,1.2,1.4,1.6,1.8,2],"tickSize":-8,"title":"σ(Data)/σ(GRV98)"}},"color":{"field":"s","type":"nominal","legend":null}}}
]},
{"width":320,"height":130,"title":"X=0.350\u00a0\u00a0\u00a0\u00a0\u00a0\u00a0[ 7.4< Q2 < 73.9 ]","data":{"name":"pts"},"transform":[{"filter":"datum.p==8"}],"resolve":{"axis":{"x":"independent","y":"independent"}},"layer":[
{"transform":[{"aggregate":[{"op":"count","as":"n"}]}],"mark":{"type":"rule","color":"#000","strokeWidth":1.3},"encoding":{"y":{"datum":1,"type":"quantitative","scale":{"domain":[0,2],"nice":false},"axis":{"orient":"left","values":[0,0.04,0.08,0.12,0.16,0.2,0.24,0.28,0.32,0.36,0.4,0.44,0.48,0.52,0.56,0.6,0.64,0.68,0.72,0.76,0.8,0.84,0.88,0.92,0.96,1,1.04,1.08,1.12,1.16,1.2,1.24,1.28,1.32,1.36,1.4,1.44,1.48,1.52,1.56,1.6,1.64,1.68,1.72,1.76,1.8,1.84,1.88,1.92,1.96,2],"tickSize":-4,"labels":false,"title":null}}}},
{"mark":{"type":"rule","clip":true,"strokeWidth":1.4},"encoding":{"x":{"field":"y","type":"quantitative","scale":{"domain":[0,1],"nice":false,"zero":false},"axis":{"orient":"bottom","values":[0,0.02,0.04,0.06,0.08,0.1,0.12,0.14,0.16,0.18,0.2,0.22,0.24,0.26,0.28,0.3,0.32,0.34,0.36,0.38,0.4,0.42,0.44,0.46,0.48,0.5,0.52,0.54,0.56,0.58,0.6,0.62,0.64,0.66,0.68,0.7,0.72,0.74,0.76,0.78,0.8,0.82,0.84,0.86,0.88,0.9,0.92,0.94,0.96,0.98,1],"tickSize":-3,"labels":false,"title":null}},"y":{"field":"lo","type":"quantitative","axis":null},"y2":{"field":"hi"},"color":{"field":"s","type":"nominal","scale":{"domain":["a","b"],"range":["#ee3b2b","#2a4bf5"]},"legend":null}}},
{"mark":{"type":"tick","orient":"horizontal","clip":true,"size":7,"thickness":1.4},"encoding":{"x":{"field":"y","type":"quantitative","axis":null},"y":{"field":"hi","type":"quantitative","axis":null},"color":{"field":"s","type":"nominal","legend":null}}},
{"mark":{"type":"tick","orient":"horizontal","clip":true,"size":7,"thickness":1.4},"encoding":{"x":{"field":"y","type":"quantitative","axis":null},"y":{"field":"lo","type":"quantitative","axis":null},"color":{"field":"s","type":"nominal","legend":null}}},
{"mark":{"type":"point","shape":"circle","filled":true,"size":110,"color":"#f2f2f2","opacity":1,"strokeWidth":0},"encoding":{"x":{"field":"y","type":"quantitative","axis":null},"y":{"field":"v","type":"quantitative","axis":null}}},
{"mark":{"type":"point","shape":"circle","filled":false,"size":110,"strokeWidth":1.5,"opacity":1},"encoding":{"x":{"field":"y","type":"quantitative","axis":{"orient":"bottom","values":[0,0.1,0.2,0.3,0.4,0.5,0.6,0.7,0.8,0.9,1],"tickSize":-6,"title":"y"}},"y":{"field":"v","type":"quantitative","axis":{"orient":"left","values":[0,0.2,0.4,0.6,0.8,1,1.2,1.4,1.6,1.8,2],"tickSize":-8,"title":"σ(Data)/σ(GRV98)"}},"color":{"field":"s","type":"nominal","legend":null}}}
]},
{"width":320,"height":130,"title":"X=0.450\u00a0\u00a0\u00a0\u00a0\u00a0\u00a0[ 9.5< Q2 < 95.1 ]","data":{"name":"pts"},"transform":[{"filter":"datum.p==9"}],"resolve":{"axis":{"x":"independent","y":"independent"}},"layer":[
{"transform":[{"aggregate":[{"op":"count","as":"n"}]}],"mark":{"type":"rule","color":"#000","strokeWidth":1.3},"encoding":{"y":{"datum":1,"type":"quantitative","scale":{"domain":[0,2],"nice":false},"axis":{"orient":"left","values":[0,0.04,0.08,0.12,0.16,0.2,0.24,0.28,0.32,0.36,0.4,0.44,0.48,0.52,0.56,0.6,0.64,0.68,0.72,0.76,0.8,0.84,0.88,0.92,0.96,1,1.04,1.08,1.12,1.16,1.2,1.24,1.28,1.32,1.36,1.4,1.44,1.48,1.52,1.56,1.6,1.64,1.68,1.72,1.76,1.8,1.84,1.88,1.92,1.96,2],"tickSize":-4,"labels":false,"title":null}}}},
{"mark":{"type":"rule","clip":true,"strokeWidth":1.4},"encoding":{"x":{"field":"y","type":"quantitative","scale":{"domain":[0,1],"nice":false,"zero":false},"axis":{"orient":"bottom","values":[0,0.02,0.04,0.06,0.08,0.1,0.12,0.14,0.16,0.18,0.2,0.22,0.24,0.26,0.28,0.3,0.32,0.34,0.36,0.38,0.4,0.42,0.44,0.46,0.48,0.5,0.52,0.54,0.56,0.58,0.6,0.62,0.64,0.66,0.68,0.7,0.72,0.74,0.76,0.78,0.8,0.82,0.84,0.86,0.88,0.9,0.92,0.94,0.96,0.98,1],"tickSize":-3,"labels":false,"title":null}},"y":{"field":"lo","type":"quantitative","axis":null},"y2":{"field":"hi"},"color":{"field":"s","type":"nominal","scale":{"domain":["a","b"],"range":["#ee3b2b","#2a4bf5"]},"legend":null}}},
{"mark":{"type":"tick","orient":"horizontal","clip":true,"size":7,"thickness":1.4},"encoding":{"x":{"field":"y","type":"quantitative","axis":null},"y":{"field":"hi","type":"quantitative","axis":null},"color":{"field":"s","type":"nominal","legend":null}}},
{"mark":{"type":"tick","orient":"horizontal","clip":true,"size":7,"thickness":1.4},"encoding":{"x":{"field":"y","type":"quantitative","axis":null},"y":{"field":"lo","type":"quantitative","axis":null},"color":{"field":"s","type":"nominal","legend":null}}},
{"mark":{"type":"point","shape":"circle","filled":true,"size":110,"color":"#f2f2f2","opacity":1,"strokeWidth":0},"encoding":{"x":{"field":"y","type":"quantitative","axis":null},"y":{"field":"v","type":"quantitative","axis":null}}},
{"mark":{"type":"point","shape":"circle","filled":false,"size":110,"strokeWidth":1.5,"opacity":1},"encoding":{"x":{"field":"y","type":"quantitative","axis":{"orient":"bottom","values":[0,0.1,0.2,0.3,0.4,0.5,0.6,0.7,0.8,0.9,1],"tickSize":-6,"title":"y"}},"y":{"field":"v","type":"quantitative","axis":{"orient":"left","values":[0,0.2,0.4,0.6,0.8,1,1.2,1.4,1.6,1.8,2],"tickSize":-8,"title":"σ(Data)/σ(GRV98)"}},"color":{"field":"s","type":"nominal","legend":null}}}
]},
{"width":320,"height":130,"title":"X=0.550\u00a0\u00a0\u00a0\u00a0\u00a0\u00a0[ 11.6< Q2 < 116.2 ]","data":{"name":"pts"},"transform":[{"filter":"datum.p==10"}],"resolve":{"axis":{"x":"independent","y":"independent"}},"layer":[
{"transform":[{"aggregate":[{"op":"count","as":"n"}]}],"mark":{"type":"rule","color":"#000","strokeWidth":1.3},"encoding":{"y":{"datum":1,"type":"quantitative","scale":{"domain":[0,2],"nice":false},"axis":{"orient":"left","values":[0,0.04,0.08,0.12,0.16,0.2,0.24,0.28,0.32,0.36,0.4,0.44,0.48,0.52,0.56,0.6,0.64,0.68,0.72,0.76,0.8,0.84,0.88,0.92,0.96,1,1.04,1.08,1.12,1.16,1.2,1.24,1.28,1.32,1.36,1.4,1.44,1.48,1.52,1.56,1.6,1.64,1.68,1.72,1.76,1.8,1.84,1.88,1.92,1.96,2],"tickSize":-4,"labels":false,"title":null}}}},
{"mark":{"type":"rule","clip":true,"strokeWidth":1.4},"encoding":{"x":{"field":"y","type":"quantitative","scale":{"domain":[0,1],"nice":false,"zero":false},"axis":{"orient":"bottom","values":[0,0.02,0.04,0.06,0.08,0.1,0.12,0.14,0.16,0.18,0.2,0.22,0.24,0.26,0.28,0.3,0.32,0.34,0.36,0.38,0.4,0.42,0.44,0.46,0.48,0.5,0.52,0.54,0.56,0.58,0.6,0.62,0.64,0.66,0.68,0.7,0.72,0.74,0.76,0.78,0.8,0.82,0.84,0.86,0.88,0.9,0.92,0.94,0.96,0.98,1],"tickSize":-3,"labels":false,"title":null}},"y":{"field":"lo","type":"quantitative","axis":null},"y2":{"field":"hi"},"color":{"field":"s","type":"nominal","scale":{"domain":["a","b"],"range":["#ee3b2b","#2a4bf5"]},"legend":null}}},
{"mark":{"type":"tick","orient":"horizontal","clip":true,"size":7,"thickness":1.4},"encoding":{"x":{"field":"y","type":"quantitative","axis":null},"y":{"field":"hi","type":"quantitative","axis":null},"color":{"field":"s","type":"nominal","legend":null}}},
{"mark":{"type":"tick","orient":"horizontal","clip":true,"size":7,"thickness":1.4},"encoding":{"x":{"field":"y","type":"quantitative","axis":null},"y":{"field":"lo","type":"quantitative","axis":null},"color":{"field":"s","type":"nominal","legend":null}}},
{"mark":{"type":"point","shape":"circle","filled":true,"size":110,"color":"#f2f2f2","opacity":1,"strokeWidth":0},"encoding":{"x":{"field":"y","type":"quantitative","axis":null},"y":{"field":"v","type":"quantitative","axis":null}}},
{"mark":{"type":"point","shape":"circle","filled":false,"size":110,"strokeWidth":1.5,"opacity":1},"encoding":{"x":{"field":"y","type":"quantitative","axis":{"orient":"bottom","values":[0,0.1,0.2,0.3,0.4,0.5,0.6,0.7,0.8,0.9,1],"tickSize":-6,"title":"y"}},"y":{"field":"v","type":"quantitative","axis":{"orient":"left","values":[0,0.2,0.4,0.6,0.8,1,1.2,1.4,1.6,1.8,2],"tickSize":-8,"title":"σ(Data)/σ(GRV98)"}},"color":{"field":"s","type":"nominal","legend":null}}}
]},
{"width":320,"height":130,"title":"X=0.650\u00a0\u00a0\u00a0\u00a0\u00a0\u00a0[ 13.7< Q2 < 119.0 ]","data":{"name":"pts"},"transform":[{"filter":"datum.p==11"}],"resolve":{"axis":{"x":"independent","y":"independent"}},"layer":[
{"transform":[{"aggregate":[{"op":"count","as":"n"}]}],"mark":{"type":"rule","color":"#000","strokeWidth":1.3},"encoding":{"y":{"datum":1,"type":"quantitative","scale":{"domain":[0,2],"nice":false},"axis":{"orient":"left","values":[0,0.04,0.08,0.12,0.16,0.2,0.24,0.28,0.32,0.36,0.4,0.44,0.48,0.52,0.56,0.6,0.64,0.68,0.72,0.76,0.8,0.84,0.88,0.92,0.96,1,1.04,1.08,1.12,1.16,1.2,1.24,1.28,1.32,1.36,1.4,1.44,1.48,1.52,1.56,1.6,1.64,1.68,1.72,1.76,1.8,1.84,1.88,1.92,1.96,2],"tickSize":-4,"labels":false,"title":null}}}},
{"mark":{"type":"rule","clip":true,"strokeWidth":1.4},"encoding":{"x":{"field":"y","type":"quantitative","scale":{"domain":[0,1],"nice":false,"zero":false},"axis":{"orient":"bottom","values":[0,0.02,0.04,0.06,0.08,0.1,0.12,0.14,0.16,0.18,0.2,0.22,0.24,0.26,0.28,0.3,0.32,0.34,0.36,0.38,0.4,0.42,0.44,0.46,0.48,0.5,0.52,0.54,0.56,0.58,0.6,0.62,0.64,0.66,0.68,0.7,0.72,0.74,0.76,0.78,0.8,0.82,0.84,0.86,0.88,0.9,0.92,0.94,0.96,0.98,1],"tickSize":-3,"labels":false,"title":null}},"y":{"field":"lo","type":"quantitative","axis":null},"y2":{"field":"hi"},"color":{"field":"s","type":"nominal","scale":{"domain":["a","b"],"range":["#ee3b2b","#2a4bf5"]},"legend":null}}},
{"mark":{"type":"tick","orient":"horizontal","clip":true,"size":7,"thickness":1.4},"encoding":{"x":{"field":"y","type":"quantitative","axis":null},"y":{"field":"hi","type":"quantitative","axis":null},"color":{"field":"s","type":"nominal","legend":null}}},
{"mark":{"type":"tick","orient":"horizontal","clip":true,"size":7,"thickness":1.4},"encoding":{"x":{"field":"y","type":"quantitative","axis":null},"y":{"field":"lo","type":"quantitative","axis":null},"color":{"field":"s","type":"nominal","legend":null}}},
{"mark":{"type":"point","shape":"circle","filled":true,"size":110,"color":"#f2f2f2","opacity":1,"strokeWidth":0},"encoding":{"x":{"field":"y","type":"quantitative","axis":null},"y":{"field":"v","type":"quantitative","axis":null}}},
{"mark":{"type":"point","shape":"circle","filled":false,"size":110,"strokeWidth":1.5,"opacity":1},"encoding":{"x":{"field":"y","type":"quantitative","axis":{"orient":"bottom","values":[0,0.1,0.2,0.3,0.4,0.5,0.6,0.7,0.8,0.9,1],"tickSize":-6,"title":"y"}},"y":{"field":"v","type":"quantitative","axis":{"orient":"left","values":[0,0.2,0.4,0.6,0.8,1,1.2,1.4,1.6,1.8,2],"tickSize":-8,"title":"σ(Data)/σ(GRV98)"}},"color":{"field":"s","type":"nominal","legend":null}}}
]},
{"width":320,"height":130,"view":{"stroke":null},
 "data":{"values":[{"s":"a","t":"ν data"},{"s":"b","t":"ν̄ data"}]},
 "resolve":{"scale":{"x":"independent","y":"independent"}},
 "layer":[
  {"transform":[{"filter":"datum.s=='a'"}],"mark":{"type":"text","text":"E(ν)=150 GeV","color":"#3050ff","fontSize":12,"fontWeight":"bold","font":"Liberation Sans","align":"center","baseline":"alphabetic"},
   "encoding":{"x":{"datum":0.3,"type":"quantitative","scale":{"domain":[0,1],"nice":false,"zero":false},"axis":null},"y":{"datum":0.93,"type":"quantitative","scale":{"domain":[0,1],"nice":false},"axis":null}}},
  {"transform":[{"filter":"datum.s=='a'"}],"mark":{"type":"text","text":"E=150 GeV","color":"#ff3300","fontSize":48,"font":"Liberation Sans","align":"center","baseline":"alphabetic"},
   "encoding":{"x":{"datum":0.44,"type":"quantitative","scale":{"domain":[0,1],"nice":false,"zero":false},"axis":null},"y":{"datum":0.73,"type":"quantitative","scale":{"domain":[0,1],"nice":false},"axis":null}}},
  {"mark":{"type":"point","shape":"circle","filled":false,"size":45,"strokeWidth":1.2,"opacity":1},
   "encoding":{"x":{"field":"s","type":"nominal","scale":{"type":"point","domain":["a","b"],"range":[0,200],"padding":0},"axis":null},"y":{"datum":0.43,"type":"quantitative","scale":{"domain":[0,1],"nice":false},"axis":null},"color":{"field":"s","type":"nominal","scale":{"domain":["a","b"],"range":["#ee3b2b","#2a4bf5"]},"legend":null}}},
  {"mark":{"type":"text","align":"left","baseline":"middle","dx":20,"fontSize":12,"color":"#222","font":"Liberation Sans"},
   "encoding":{"x":{"field":"s","type":"nominal","scale":{"type":"point","domain":["a","b"],"range":[0,200],"padding":0},"axis":null},"y":{"datum":0.43,"type":"quantitative","scale":{"domain":[0,1],"nice":false},"axis":null},"text":{"field":"t"}}},
  {"transform":[{"filter":"datum.s=='a'"}],"mark":{"type":"text","text":"CCFR diff. cross section","color":"#ff3300","fontSize":52,"font":"DejaVu Sans","align":"left","baseline":"alphabetic"},
   "encoding":{"x":{"datum":-0.756,"type":"quantitative","scale":{"domain":[0,1],"nice":false,"zero":false},"axis":null},"y":{"datum":-0.03,"type":"quantitative","scale":{"domain":[0,1],"nice":false},"axis":null}}}
 ]}
]
}
